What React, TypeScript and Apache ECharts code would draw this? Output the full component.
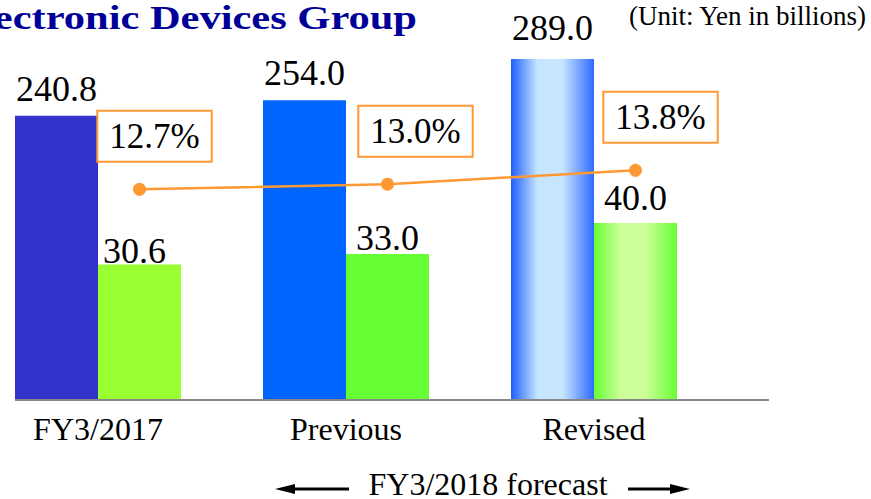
import React, { useEffect, useRef } from "react";
import * as echarts from "echarts";

const categories = ["FY3/2017", "Previous", "Revised"];
const salesValues = [240.8, 254.0, 289.0];
const incomeValues = [30.6, 33.0, 40.0];
const marginValues = [12.7, 13.0, 13.8];

const titleText = "Electronic Devices Group";
const unitText = "(Unit: Yen in billions)";
const forecastText = "FY3/2018 forecast";

const SERIF = "'Liberation Serif', 'Times New Roman', serif";

const salesColors: any[] = [
  "#3333CC",
  "#0066FF",
  new echarts.graphic.LinearGradient(0, 0, 1, 0, [
    { offset: 0, color: "#1F5FFF" },
    { offset: 0.32, color: "#C6E6FF" },
    { offset: 0.62, color: "#C6E6FF" },
    { offset: 1, color: "#2F6AFF" },
  ]),
];
const incomeColors: any[] = [
  "#99FF33",
  "#66FF33",
  new echarts.graphic.LinearGradient(0, 0, 1, 0, [
    { offset: 0, color: "#66FF33" },
    { offset: 0.32, color: "#CCFF99" },
    { offset: 0.62, color: "#CCFF99" },
    { offset: 1, color: "#66FF33" },
  ]),
];
const salesLabelDist = [9, 9, 13];
const incomeLabelDist = [-4, -2, 7];
const incomeLabelOffset = [[-5, 0], [0, 0], [0, 0]];
const marginLabelOffset = [[15, -53], [28, -53], [25, -53]];

export default function App() {
  const ref = useRef<HTMLDivElement>(null);
  useEffect(() => {
    if (!ref.current) return;
    const chart = echarts.init(ref.current, null, { renderer: "svg" });
    const gridBase = {
      top: 46,
      width: 744,
      height: 354,
      containLabel: false,
      outerBoundsMode: "none",
    };
    const option: any = {
      animation: false,
      backgroundColor: "#ffffff",
      grid: [
        { ...gridBase, left: -26 },
        { ...gridBase, left: 15.5 },
      ],
      xAxis: [
        {
          type: "category",
          gridIndex: 0,
          data: categories,
          axisLine: { show: false },
          axisTick: { show: false },
          axisLabel: {
            fontFamily: SERIF,
            fontSize: 32,
            color: "#000",
            margin: 13,
          },
          splitLine: { show: false },
        },
        {
          type: "category",
          gridIndex: 1,
          data: categories,
          show: false,
        },
      ],
      yAxis: [
        { type: "value", gridIndex: 0, min: 0, max: 300, show: false, splitLine: { show: false } },
        { type: "value", gridIndex: 0, min: 0, max: 80, show: false, splitLine: { show: false } },
        { type: "value", gridIndex: 1, min: 0.5, max: 21, show: false, splitLine: { show: false } },
      ],
      series: [
        {
          type: "bar",
          xAxisIndex: 0,
          yAxisIndex: 0,
          barWidth: 83,
          barGap: "0%",
          data: salesValues.map((v, i) => ({
            value: v,
            itemStyle: { color: salesColors[i] },
            label: { distance: salesLabelDist[i] },
          })),
          label: {
            show: true,
            position: "top",
            fontFamily: SERIF,
            fontSize: 36,
            color: "#000",
            formatter: (p: any) => p.value.toFixed(1),
          },
        },
        {
          type: "bar",
          xAxisIndex: 0,
          yAxisIndex: 1,
          barWidth: 83,
          barGap: "0%",
          data: incomeValues.map((v, i) => ({
            value: v,
            itemStyle: { color: incomeColors[i] },
            label: { distance: incomeLabelDist[i], offset: incomeLabelOffset[i] },
          })),
          label: {
            show: true,
            position: "top",
            fontFamily: SERIF,
            fontSize: 36,
            color: "#000",
            formatter: (p: any) => p.value.toFixed(1),
          },
        },
        {
          type: "line",
          xAxisIndex: 1,
          yAxisIndex: 2,
          symbol: "circle",
          symbolSize: 13,
          lineStyle: { color: "#FF9933", width: 2.5 },
          itemStyle: { color: "#FF9933" },
          data: marginValues.map((v, i) => ({
            value: v,
            label: { offset: marginLabelOffset[i] },
          })),
          label: {
            show: true,
            position: "inside",
            fontFamily: SERIF,
            fontSize: 35,
            lineHeight: 35,
            color: "#000",
            backgroundColor: "#ffffff",
            borderColor: "#FF9933",
            borderWidth: 2,
            padding: [7, 11, 7, 11],
            formatter: (p: any) => p.value.toFixed(1) + "%",
          },
          z: 5,
        },
      ],
      graphic: [
        {
          type: "line",
          shape: { x1: 15, y1: 400, x2: 769, y2: 400 },
          style: { stroke: "#888888", lineWidth: 2 },
          z: 10,
        },
        {
          type: "text",
          x: 417,
          y: 18,
          scaleX: 1.25,
          style: {
            text: titleText,
            fontFamily: SERIF,
            fontSize: 34,
            fontWeight: "bold",
            fill: "#000099",
            align: "right",
            textAlign: "right",
            verticalAlign: "middle",
            textVerticalAlign: "middle",
          },
        },
        {
          type: "text",
          x: 629,
          y: 16,
          style: {
            text: unitText,
            fontFamily: SERIF,
            fontSize: 27,
            fill: "#000",
            align: "left",
            textAlign: "left",
            verticalAlign: "middle",
            textVerticalAlign: "middle",
          },
        },
        {
          type: "text",
          x: 488,
          y: 484,
          style: {
            text: forecastText,
            fontFamily: SERIF,
            fontSize: 32,
            lineHeight: 26,
            fill: "#000",
            align: "center",
            textAlign: "center",
            verticalAlign: "middle",
            textVerticalAlign: "middle",
          },
        },
        {
          type: "line",
          shape: { x1: 292, y1: 489, x2: 349, y2: 489 },
          style: { stroke: "#000", lineWidth: 3 },
        },
        {
          type: "polygon",
          shape: { points: [[275, 489], [295, 484], [295, 494]] },
          style: { fill: "#000" },
        },
        {
          type: "line",
          shape: { x1: 628, y1: 489, x2: 673, y2: 489 },
          style: { stroke: "#000", lineWidth: 3 },
        },
        {
          type: "polygon",
          shape: { points: [[690, 489], [670, 484], [670, 494]] },
          style: { fill: "#000" },
        },
      ],
    };
    chart.setOption(option);
    return () => chart.dispose();
  }, []);
  return <div ref={ref} style={{ width: 871, height: 499, position: "absolute", left: 0, top: 0 }} />;
}
